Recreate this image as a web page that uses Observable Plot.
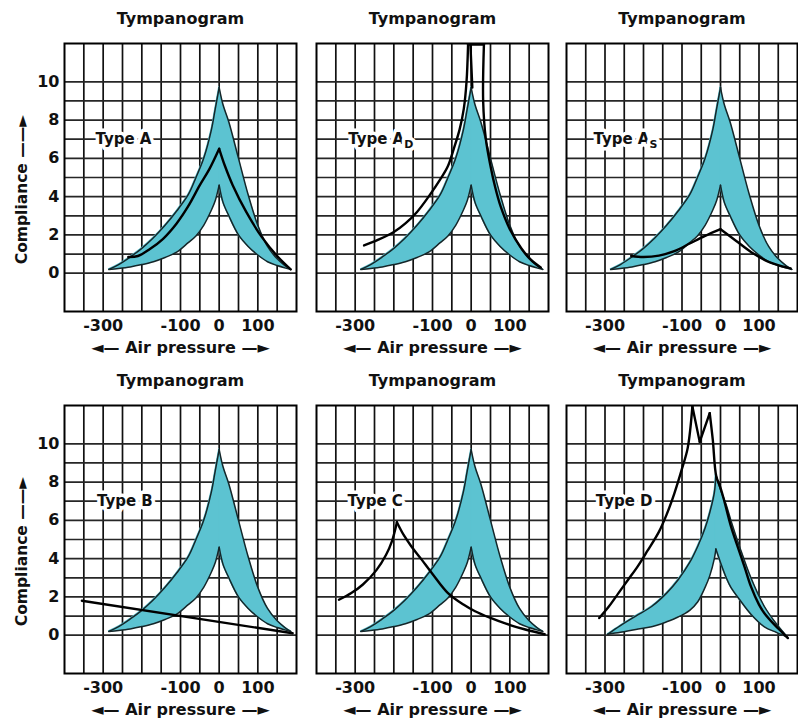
<!DOCTYPE html>
<html><head><meta charset="utf-8">
<script src="https://cdn.jsdelivr.net/npm/d3@7"></script>
<script src="https://cdn.jsdelivr.net/npm/@observablehq/plot@0.6"></script>
<style>
html,body{margin:0;padding:0;background:#fff;overflow:hidden;}
#chart{position:relative;width:798px;height:722px;background:#fff;}
.panel{position:absolute;}
</style></head><body><div id="chart"></div>
<script>
// ---- text ----
const panelTitles = ["Tympanogram","Tympanogram","Tympanogram","Tympanogram","Tympanogram","Tympanogram"];
const typeLabels = ["Type A","Type A","Type A","Type B","Type C","Type D"];
const typeSubs = ["","D","S","","",""];
const labelX = [-320,-318,-330,-316,-320,-324];
const labelY = [7,7,7,7,7,7];
const xAxisLabel = "\u25C4\u2014 Air pressure \u2014\u25BA";
const yAxisLabel = "Compliance \u2014\u2014\u25BA";

// ---- axes / grid ----
const xDomain = [-400, 200];
const yDomain = [-2, 12];
const xTicks = [-300, -100, 0, 100];
const yTicks = [0, 2, 4, 6, 8, 10];
const gridX = [-350, -300, -250, -200, -150, -100, -50, 0, 50, 100, 150];
const gridY = [0, 1, 2, 3, 4, 5, 6, 7, 8, 9, 10];

// ---- normal (shaded) region, panels A, AD, AS, B, C ----
const bandLeftX  = [-285, -260, -230, -200, -170, -140, -110, -80, -60, -40, -20, -10, 0];
const bandLeftHi = [0.2, 0.45, 0.85, 1.3, 1.85, 2.5, 3.25, 4.1, 5.0, 6.0, 7.5, 8.6, 9.7];
const bandLeftLo = [0.2, 0.25, 0.33, 0.45, 0.6, 0.82, 1.1, 1.6, 1.95, 2.5, 3.3, 3.8, 4.6];
const bandRightX  = [0, 10, 25, 50, 75, 100, 125, 150, 170, 185];
const bandRightHi = [9.7, 8.8, 7.9, 6.0, 4.1, 2.5, 1.4, 0.75, 0.4, 0.2];
const bandRightLo = [4.6, 3.7, 3.0, 2.0, 1.4, 0.95, 0.6, 0.4, 0.28, 0.2];

// ---- shaded region as drawn in the Type D panel ----
const bandDLeftX  = [-293, -260, -220, -179, -140, -110, -80, -59, -40, -28, -16, -12];
const bandDLeftHi = [0.05, 0.5, 1.0, 1.5, 2.2, 2.9, 3.8, 4.65, 5.6, 6.4, 7.45, 8.4];
const bandDLeftLo = [0.05, 0.15, 0.3, 0.44, 0.7, 0.95, 1.3, 1.75, 2.5, 3.1, 4.0, 4.5];
const bandDRightX  = [-12, 0, 15, 27, 50, 79, 114, 145, 174];
const bandDRightHi = [8.4, 7.6, 6.8, 6.0, 4.6, 3.0, 1.5, 0.6, -0.1];
const bandDRightLo = [4.5, 3.8, 3.0, 2.5, 1.85, 1.1, 0.44, 0.15, -0.1];

// ---- measured curves (x = air pressure, y = compliance, seg = stroke piece) ----
const typeAX   = [-235, -210, -180, -145, -110, -80, -50, -25, 0,   0, 15, 35, 70, 110, 150, 185];
const typeAY   = [0.85, 0.9, 1.25, 1.8, 2.6, 3.5, 4.6, 5.45, 6.5,   6.5, 5.6, 4.6, 3.2, 1.9, 0.9, 0.2];
const typeASeg = [0, 0, 0, 0, 0, 0, 0, 0, 0,   1, 1, 1, 1, 1, 1, 1];

const typeADX   = [-277, -240, -200, -170, -140, -110, -80, -60, -45, -30, -19, -12, -8,   -8, 33,   33, 31, 38, 50, 62, 76, 100, 130, 155, 180,   3, -2];
const typeADY   = [1.45, 1.75, 2.15, 2.6, 3.2, 4.0, 4.9, 5.6, 6.5, 7.5, 8.6, 10.0, 11.95,   11.95, 11.95,   11.95, 9.0, 7.0, 5.6, 4.5, 3.5, 2.3, 1.3, 0.7, 0.3,   9.7, 11.95];
const typeADSeg = [0, 0, 0, 0, 0, 0, 0, 0, 0, 0, 0, 0, 0,   1, 1,   2, 2, 2, 2, 2, 2, 2, 2, 2, 2,   3, 3];

const typeASX   = [-232, -200, -160, -120, -80, -40, 0,   0, 40, 80, 130, 182];
const typeASY   = [0.9, 0.85, 0.92, 1.15, 1.55, 1.95, 2.3,   2.3, 1.7, 1.1, 0.55, 0.25];
const typeASSeg = [0, 0, 0, 0, 0, 0, 0,   1, 1, 1, 1, 1];

const typeBX   = [-355, 190];
const typeBY   = [1.8, 0.1];
const typeBSeg = [0, 0];

const typeCX   = [-342, -310, -280, -245, -220, -205, -192,   -192, -175, -155, -130, -100, -60, -20, 10, 50, 90, 140, 190];
const typeCY   = [1.85, 2.2, 2.65, 3.4, 4.2, 4.9, 5.9,   5.9, 5.25, 4.65, 4.0, 3.2, 2.2, 1.6, 1.25, 0.9, 0.6, 0.3, 0.05];
const typeCSeg = [0, 0, 0, 0, 0, 0, 0,   1, 1, 1, 1, 1, 1, 1, 1, 1, 1, 1, 1];

const typeDX   = [-315, -290, -265, -240, -215, -190, -160, -140, -120, -100, -85, -73,   -73, -54,   -54, -28,   -28, -20, -11, 0, 10, 27, 45, 62, 79, 100, 114, 140, 160, 175];
const typeDY   = [0.9, 1.5, 2.2, 2.9, 3.6, 4.4, 5.4, 6.3, 7.4, 8.7, 9.8, 11.95,   11.95, 10.1,   10.1, 11.6,   11.6, 10.2, 8.3, 7.7, 7.0, 5.7, 4.6, 3.6, 2.55, 1.6, 1.15, 0.55, 0.15, -0.15];
const typeDSeg = [0, 0, 0, 0, 0, 0, 0, 0, 0, 0, 0, 0,   1, 1,   2, 2,   3, 3, 3, 3, 3, 3, 3, 3, 3, 3, 3, 3, 3, 3];

const curveX   = [typeAX, typeADX, typeASX, typeBX, typeCX, typeDX];
const curveY   = [typeAY, typeADY, typeASY, typeBY, typeCY, typeDY];
const curveSeg = [typeASeg, typeADSeg, typeASSeg, typeBSeg, typeCSeg, typeDSeg];

// ---- tables built from the arrays ----
function bandTables(lx, lhi, llo, rx, rhi, rlo) {
  const rows = [
    ...lx.map((x, k) => ({side: "L", x, lo: llo[k], hi: lhi[k]})),
    ...rx.map((x, k) => ({side: "R", x, lo: rlo[k], hi: rhi[k]}))
  ];
  const edges = [
    ...lx.map((x, k) => ({edge: "LH", x, y: lhi[k]})),
    ...lx.map((x, k) => ({edge: "LL", x, y: llo[k]})),
    ...rx.map((x, k) => ({edge: "RH", x, y: rhi[k]})),
    ...rx.map((x, k) => ({edge: "RL", x, y: rlo[k]}))
  ];
  return {rows, edges};
}
const bandStd = bandTables(bandLeftX, bandLeftHi, bandLeftLo, bandRightX, bandRightHi, bandRightLo);
const bandD = bandTables(bandDLeftX, bandDLeftHi, bandDLeftLo, bandDRightX, bandDRightHi, bandDRightLo);
const panelBand = [bandStd, bandStd, bandStd, bandStd, bandStd, bandD];

const BAND_FILL = "#5cc3d1";
const FRAME_W = [232, 232, 231];
const MARGIN_L = [64, 20, 18];
const MARGIN_R = [0, 0, 1];
const COL_LEFT = [0, 296, 548];
const ROW_TOP = [0, 362];

const chart = document.getElementById("chart");

for (let i = 0; i < 6; i++) {
  const col = i % 3, row = Math.floor(i / 3);
  const rows = curveX[i].map((x, k) => ({x, y: curveY[i][k], seg: curveSeg[i][k]}));
  const band = panelBand[i];
  const marks = [
    Plot.ruleX(gridX, {stroke: "#111", strokeWidth: 1.7}),
    Plot.ruleY(gridY, {stroke: "#262626", strokeWidth: 1.7}),
    Plot.areaY(band.rows, {x: "x", y1: "lo", y2: "hi", z: "side", fill: BAND_FILL, stroke: BAND_FILL, strokeWidth: 1.2, curve: "catmull-rom"}),
    Plot.line(band.edges, {x: "x", y: "y", z: "edge", stroke: "#142629", strokeWidth: 1.5, curve: "catmull-rom"}),
    Plot.line(rows, {x: "x", y: "y", z: "seg", stroke: "#000", strokeWidth: 2.4, curve: "catmull-rom", strokeLinejoin: "round"}),
    Plot.text([i], {x: d => labelX[d], y: d => labelY[d], text: d => typeLabels[d], textAnchor: "start", lineAnchor: "middle",
      fontSize: 15, stroke: "white", strokeWidth: 7, paintOrder: "stroke", strokeLinejoin: "round", fill: "#111"}),
    Plot.frame({stroke: "#000", strokeWidth: 2}),
    Plot.text([panelTitles[i]], {text: d => d, frameAnchor: "top", lineAnchor: "middle", textAnchor: "middle", dy: -25, fontSize: 16, fill: "#111"}),
    Plot.text([xAxisLabel], {text: d => d, frameAnchor: "bottom", lineAnchor: "middle", textAnchor: "middle", dy: 36, fontSize: 16, fill: "#111"})
  ];
  if (col === 0) {
    marks.push(Plot.text([yAxisLabel], {text: d => d, frameAnchor: "left", textAnchor: "middle", lineAnchor: "middle",
      dx: -42, dy: 12, rotate: -90, fontSize: 15.5, fill: "#111"}));
  }
  const svg = Plot.plot({
    width: MARGIN_L[col] + FRAME_W[col] + MARGIN_R[col],
    height: 360,
    marginLeft: MARGIN_L[col],
    marginRight: MARGIN_R[col],
    marginTop: 43,
    marginBottom: 49,
    x: {domain: xDomain, ticks: xTicks, tickSize: 0, tickPadding: 8, label: null, tickFormat: d => String(d)},
    y: {domain: yDomain, ticks: yTicks, tickSize: 0, tickPadding: 5, label: null, axis: col === 0 ? "left" : null, tickFormat: d => String(d)},
    style: {fontFamily: "'DejaVu Sans', Verdana, sans-serif", fontSize: "16px", fontWeight: "bold", background: "transparent", overflow: "visible", color: "#111"},
    marks
  });
  if (typeSubs[i]) {
    d3.select(svg).selectAll("text").filter(function () { return this.textContent === typeLabels[i]; })
      .append("tspan").attr("font-size", "11px").attr("dy", "4").text(typeSubs[i]);
  }
  const div = document.createElement("div");
  div.className = "panel";
  div.style.left = COL_LEFT[col] + "px";
  div.style.top = ROW_TOP[row] + "px";
  div.appendChild(svg);
  chart.appendChild(div);
}
</script>
</body></html>
